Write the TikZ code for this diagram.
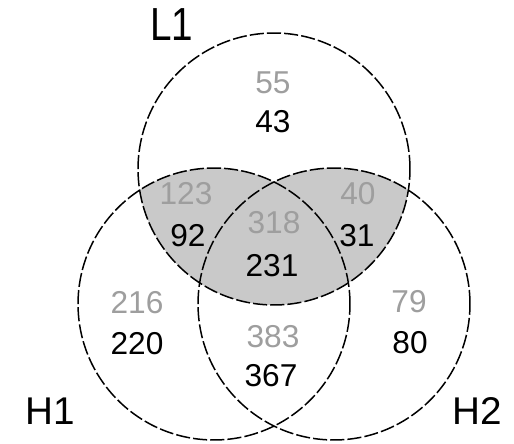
\documentclass[tikz,border=0pt]{standalone}
\usepackage{fontspec}
\setmainfont{Liberation Sans}
\usepackage{tikz}
\usetikzlibrary{calc}

\begin{document}
\begin{tikzpicture}[x=0.02cm,y=-0.02cm,
  ring/.style={draw=black,line width=0.85pt,dash pattern=on 8pt off 1.8pt},
  old/.style={inner sep=0pt,text=black!38,font=\fontsize{18}{20}\selectfont},
  new/.style={inner sep=0pt,text=black,font=\fontsize{18}{20}\selectfont},
  setname/.style={inner sep=0pt,font=\fontsize{22}{24}\selectfont}]
 \useasboundingbox[fill=white] (0,0) rectangle (514,443);
 \coordinate (cL) at (274,169);
 \coordinate (cH1) at (214,304);
 \coordinate (cH2) at (334,304);

 % shaded part: L1 inside H1 or H2
 \begin{scope}
  \clip (cL) circle[radius=2.72cm];
  \fill[black!21] (cH1) circle[radius=2.72cm] (cH2) circle[radius=2.72cm];
 \end{scope}
 \draw[ring] (cL) circle[radius=2.72cm];
 \draw[ring] (cH1) circle[radius=2.72cm];
 \draw[ring] (cH2) circle[radius=2.72cm];

 \node[setname,yscale=1.2] (L1) at (172,25) {L1};
 \node[setname] (H1) at (50,411) {H1};
 \node[setname] (H2) at (477,411) {H2};

 \node[old] (A1) at (273,83) {55};
 \node[old] (A2) at (186,194) {123};
 \node[old] (A3) at (274,223) {318};
 \node[old] (A4) at (358,194) {40};
 \node[old] (A5) at (137,303) {216};
 \node[old] (A6) at (273,337) {383};
 \node[old] (A7) at (409,302) {79};

 \node[new] (B1) at ($(A1)+(0,39)$) {43};
 \node[new] (B2) at ($(A2)+(2,42)$) {92};
 \node[new] (B3) at ($(A3)+(-2,43)$) {231};
 \node[new] (B4) at ($(A4)+(-1,42)$) {31};
 \node[new] (B5) at ($(A5)+(0,41)$) {220};
 \node[new] (B6) at ($(A6)+(-2,39)$) {367};
 \node[new] (B7) at ($(A7)+(1,41)$) {80};
\end{tikzpicture}
\end{document}
